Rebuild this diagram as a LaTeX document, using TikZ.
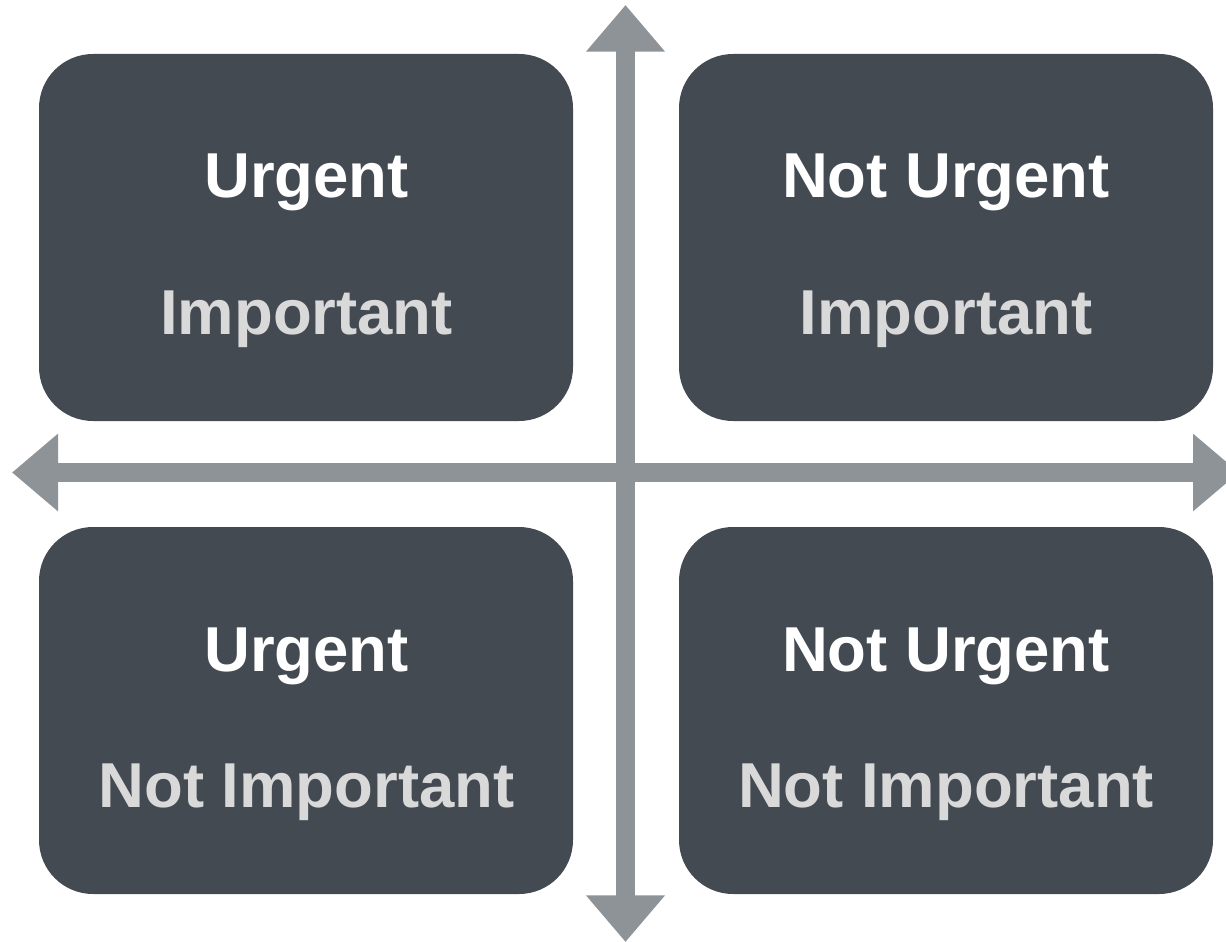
\documentclass[tikz,border=0pt]{standalone}
\usepackage{fontspec}
\setmainfont{Liberation Sans}
\usetikzlibrary{arrows.meta}
\definecolor{boxfill}{RGB}{67,74,82}
\definecolor{axisgray}{RGB}{142,147,151}
\definecolor{lightgray}{RGB}{217,217,217}
\tikzset{
  quad/.style={fill=boxfill, draw=none, rounded corners=40.5pt, minimum width=400.5pt, minimum height=275.25pt, inner sep=0pt},
  axisboth/.style={draw=axisgray, line width=14.6pt, {Triangle[length=34.5pt,width=56pt]}-{Triangle[length=34.5pt,width=56pt]}},
  vaxis/.style={draw=axisgray, line width=14.3pt, {Triangle[length=35pt,width=57pt]}-{Triangle[length=35pt,width=57pt]}},
  toptext/.style={anchor=base, text=white, font=\bfseries\fontsize{47.6}{56}\selectfont, inner sep=0pt},
  bottext/.style={anchor=base, text=lightgray, font=\bfseries\fontsize{47.6}{56}\selectfont, inner sep=0pt}
}
\begin{document}
\begin{tikzpicture}[x=0.75pt,y=-0.75pt]
\useasboundingbox (0,0) rectangle (1226,941);
\clip (0,0) rectangle (1226,941);
% axes
\coordinate (vtop) at (625.5,5);
\coordinate (vbot) at (625.5,942);
\coordinate (hleft) at (12,472.5);
\coordinate (hright) at (1239,472.5);
\draw[axisboth] (hleft) -- (hright);
\draw[vaxis] (vtop) -- (vbot);
% quadrants
\node[quad] (tl) at (306,237.5) {};
\node[quad] (tr) at (946,237.5) {};
\node[quad] (bl) at (306,710.5) {};
\node[quad] (br) at (946,710.5) {};
% texts
\node[toptext] (tl1) at (306.5,198) {Urgent};
\node[bottext] (tl2) at (306.5,334) {Important};
\node[toptext] (tr1) at (946,198) {Not Urgent};
\node[bottext] (tr2) at (946,334) {Important};
\node[toptext] (bl1) at (306.5,671) {Urgent};
\node[bottext] (bl2) at (306.5,807) {Not Important};
\node[toptext] (br1) at (946,671) {Not Urgent};
\node[bottext] (br2) at (946,807) {Not Important};
\end{tikzpicture}
\end{document}
